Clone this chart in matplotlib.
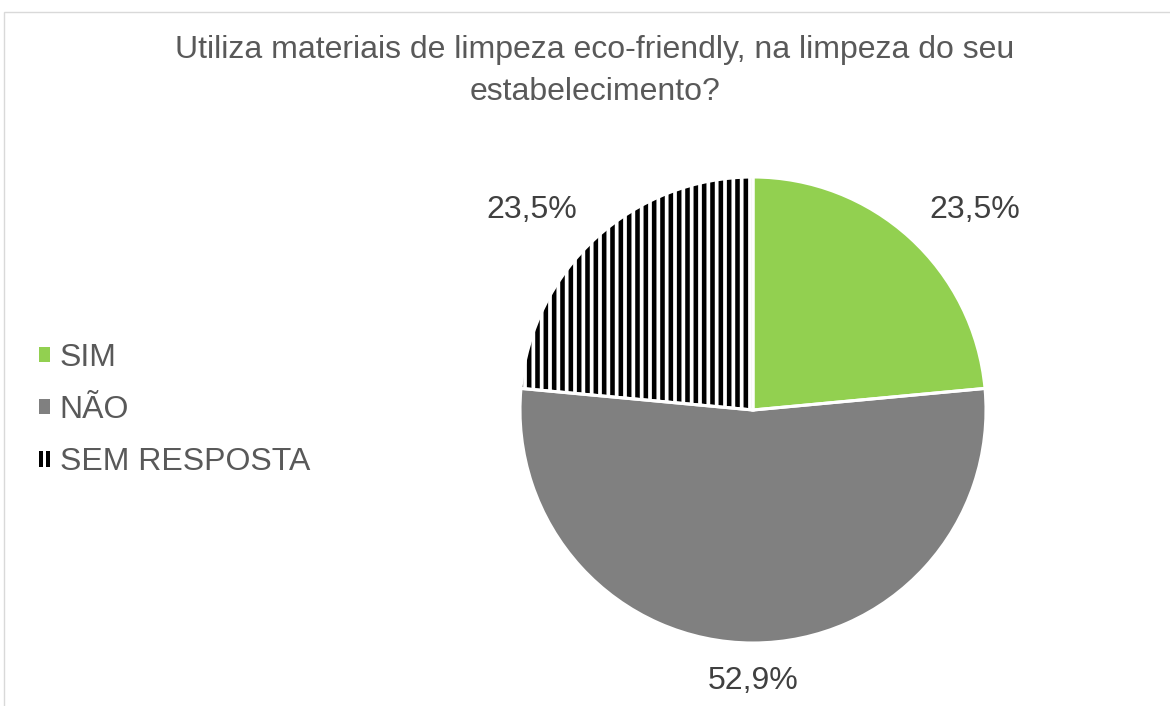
import matplotlib
matplotlib.use("Agg")
import matplotlib.pyplot as plt
from matplotlib.patches import Patch, Rectangle
from matplotlib.legend_handler import HandlerBase
import numpy as np

plt.rcParams['font.family'] = ['Liberation Sans', 'DejaVu Sans']
plt.rcParams['hatch.linewidth'] = 3.3

title = "Utiliza materiais de limpeza eco-friendly, na limpeza do seu\nestabelecimento?"
categories = ["SIM", "NÃO", "SEM RESPOSTA"]
values = [23.5, 52.9, 23.5]
colors = ["#92D050", "#808080", "#FFFFFF"]
hatches = [None, None, "||"]
label_texts = ["23,5%", "52,9%", "23,5%"]

W, H = 1170, 706
fig = plt.figure(figsize=(W / 100, H / 100), dpi=100)

# chart frame
fig.patches.append(Rectangle((4 / W, -0.01), 1.0, (H - 12) / H + 0.01,
                             transform=fig.transFigure, fill=False,
                             edgecolor="#D9D9D9", linewidth=1.0))

cx, cy, r = 753, 410, 233
ax = fig.add_axes([(cx - r) / W, (H - cy - r) / H, 2 * r / W, 2 * r / H])

wedges, _ = ax.pie(values, colors=colors, startangle=90, counterclock=False,
                   radius=1.0, wedgeprops=dict(linewidth=0))
for w, h in zip(wedges, hatches):
    if h:
        w.set_hatch(h)
        w.set_edgecolor("black")
        w.set_linewidth(0)

# white separators
ax.pie(values, colors=["none"] * 3, startangle=90, counterclock=False, radius=1.0,
       wedgeprops=dict(linewidth=2.2, edgecolor="white", fill=False))
ax.set_xlim(-1, 1)
ax.set_ylim(-1, 1)
ax.axis("off")

# value labels
total = sum(values)
start = 90.0
for v, t in zip(values, label_texts):
    mid = start - v / total * 360 / 2
    start -= v / total * 360
    a = np.deg2rad(mid)
    x, y = 1.25 * np.cos(a) * 1.13, 1.25 * np.sin(a) * 0.93
    ax.text(x, y, t, ha="center", va="center", fontsize=23, color="#404040")

fig.text(595 / W, 1 - 71 / H, title, ha="center", va="center", fontsize=23,
         color="#595959", linespacing=1.5)


class StripeHandler(HandlerBase):
    def create_artists(self, legend, orig_handle, xdescent, ydescent,
                       width, height, fontsize, trans):
        bw = width * 0.33
        bars = []
        for x0 in (-xdescent, -xdescent + width - bw):
            bars.append(Rectangle((x0, -ydescent), bw, height, facecolor="black",
                                  edgecolor="none", transform=trans))
        return bars


handles = [Patch(facecolor=c, edgecolor="none", linewidth=0) for c in colors]
handler_map = {handles[i]: StripeHandler() for i, h in enumerate(hatches) if h}
leg = fig.legend(handles, categories, loc="center left", bbox_to_anchor=(10 / W, 1 - 410 / H),
                 frameon=False, fontsize=23, handlelength=0.36, handleheight=0.36,
                 handletextpad=0.3, labelspacing=0.7, labelcolor="#595959",
                 handler_map=handler_map)

fig.savefig("out.png", dpi=100)
